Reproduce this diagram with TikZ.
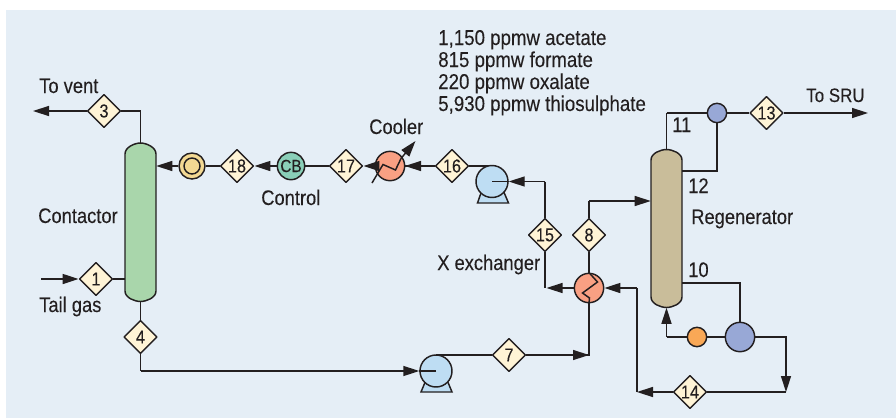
\documentclass[tikz,border=0pt]{standalone}
\usepackage{fontspec}
\setmainfont[FakeStretch=0.87,FakeBold=0.12]{Liberation Sans}
\usetikzlibrary{arrows.meta,shapes.geometric}
\definecolor{panel}{HTML}{E5EEF6}
\definecolor{ink}{HTML}{231F20}
\definecolor{diamondfill}{HTML}{FFF4D6}
\definecolor{green1}{HTML}{A9D6AB}
\definecolor{tan1}{HTML}{C9BD9A}
\definecolor{pumpblue}{HTML}{BEDDF3}
\definecolor{salmon1}{HTML}{F9A083}
\definecolor{teal1}{HTML}{8ACFB8}
\definecolor{yellow1}{HTML}{F3D993}
\definecolor{blue1}{HTML}{98A8D6}
\definecolor{orange1}{HTML}{F9A856}
\tikzset{
  x=0.75pt,y=-0.75pt,
  line/.style={draw=ink,line width=1.1pt},
  flow/.style={line,-{Triangle[length=12pt,width=7.5pt]}},
  stream/.style={diamond,draw=ink,fill=diamondfill,line width=1.1pt,minimum width=25pt,minimum height=25pt,inner sep=0pt,font=\fontsize{14}{14}\selectfont,text=ink,line join=round},
  lab/.style={font=\fontsize{15.8}{16.5}\selectfont,text=ink,inner sep=0pt,anchor=base west,align=left},
  ball/.style={circle,draw=ink,line width=1.1pt,inner sep=0pt},
  vessel/.style={draw=ink,line width=1.1pt},
  slot/.style={inner sep=0pt,minimum width=23.25pt,minimum height=118.5pt},
}
\begin{document}
\begin{tikzpicture}
\useasboundingbox (0,0) rectangle (896,418);
\fill[panel] (6,10) rectangle (896,418);

% vessels
\path[vessel,fill=green1] (125,154) .. controls (125,147) and (135,143) .. (140.5,143) .. controls (146,143) and (156,147) .. (156,154) -- (156,291) .. controls (156,298) and (146,301.5) .. (140.5,301.5) .. controls (135,301.5) and (125,298) .. (125,291) -- cycle;
\path[vessel,fill=tan1] (651,160) .. controls (651,153) and (661,149.5) .. (666.5,149.5) .. controls (672,149.5) and (682,153) .. (682,160) -- (682,297) .. controls (682,304) and (672,307.5) .. (666.5,307.5) .. controls (661,307.5) and (651,304) .. (651,297) -- cycle;
\node[slot] (cont) at (140.5,222.25) {};
\node[slot] (regen) at (666.5,228.5) {};

% streams
\node[stream] (s3) at (104,111) {3};
\node[stream] (s18) at (237,166) {18};
\node[stream] (s17) at (346,166) {17};
\node[stream] (s16) at (452,166) {16};
\node[stream] (s15) at (545,235) {15};
\node[stream] (s8) at (589,235) {8};
\node[stream] (s13) at (766.5,113) {13};
\node[stream] (s1) at (96,279) {1};
\node[stream] (s4) at (140.5,337) {4};
\node[stream] (s7) at (509,355) {7};
\node[stream] (s14) at (690,392) {14};

% corner and free-end coordinates
\coordinate (vent) at (33,111);
\coordinate (c3) at (140.5,111);
\coordinate (tail) at (41,279);
\coordinate (c4) at (140.5,371);
\coordinate (c16) at (492,166);
\coordinate (c15a) at (545,181.5);
\coordinate (c15b) at (545,288);
\coordinate (c8) at (589,201);
\coordinate (c7) at (589,355);
\coordinate (sru) at (868,113);
\coordinate (c11) at (666.5,113);
\coordinate (c12) at (717,171);
\coordinate (c12b) at (682,171);
\coordinate (c10a) at (682,283);
\coordinate (c10b) at (740,283);
\coordinate (r1) at (666.5,337);
\coordinate (r2) at (786,337);
\coordinate (r3) at (786,392);
\coordinate (r4) at (637,392);
\coordinate (r5) at (637,288);

% connectors under equipment
\draw[line] (c3) -- (cont.north);
\draw[line] (s3.east) -- (c3);
\draw[flow] (s3.west) -- (vent);
\draw[line] (s1.east) -- (s1.east-|cont.west);
\draw[flow] (tail) -- (s1.west);
\draw[line] (cont.south) -- (s4.north);
\draw[line] (s4.south) -- (c4);
\draw[line] (c15a) -- (s15.north);
\draw[line] (s15.south) -- (c15b);
\draw[line] (s8.south) -- (589,288);
\draw[line] (s8.north) -- (c8);
\draw[flow] (c8) -- (c8-|regen.west);
\draw[line] (c16) -- (s16.east);
\draw[line] (s16.west) -- (389,166);
\draw[line] (c11) -- (regen.north);
\draw[line] (c11) -- (717,113) -- (c12) -- (c12b);
\draw[line] (717,113) -- (s13.west);
\draw[flow] (s13.east) -- (sru);
\draw[line] (c10a) -- (c10b) -- (740,337);
\draw[line] (740,337) -- (r1);
\draw[flow] (r1) -- (regen.south);
\draw[flow] (740,337) -- (r2) -- (r3);
\draw[line] (r3) -- (s14.east);
\draw[flow] (s14.west) -- (r4);
\draw[line] (r4) -- (r5);
\draw[line] (s7.east) -- (c7) -- (589,288);
\draw[flow] (s7.east) -- (c7);
\draw[flow] (s16.west) -- (405,166);

% equipment
\node[ball,minimum width=19.5pt,fill=yellow1] (filt) at (192,166) {};
\node[ball,minimum width=12pt,fill=yellow1] at (192,166) {};
\node[ball,minimum width=20.5pt,fill=teal1,font=\fontsize{13.2}{14}\selectfont,text=ink] (cb) at (291,166) {CB};
\node[ball,minimum width=22pt,fill=salmon1] (cool) at (390,166) {};
\node[ball,minimum width=22pt,fill=salmon1] (xch) at (589,288) {};
\node[ball,minimum width=14.5pt,fill=blue1] (cond) at (717,113) {};
\node[ball,minimum width=14.5pt,fill=orange1] (oc) at (697,337) {};
\node[ball,minimum width=22pt,fill=blue1] (reb) at (740,337) {};

% pumps
\draw[line] (s7.west) -- (s7.west-|436,355);
\path[vessel,fill=pumpblue,line join=miter] (482,190) -- (477.5,203) -- (508.5,203) -- (503,190) -- cycle;
\node[ball,minimum width=24pt,fill=pumpblue] (p1) at (492,181.5) {};
\path[vessel,fill=pumpblue,line join=miter] (426,380) -- (421,392) -- (452,392) -- (447,380) -- cycle;
\node[ball,minimum width=24pt,fill=pumpblue] (p2) at (436,371) {};

% arrows that meet the equipment
\draw[flow] (filt.west) -- (filt.west-|cont.east);
\draw[flow] (cb.west) -- (s18.east);
\draw[line] (s18.west) -- (filt.east);
\draw[flow] (cool.west) -- (s17.east);
\draw[line] (s17.west) -- (cb.east);
\draw[line] (p1.center) -- (p1.east);
\draw[flow] (c15a) -- (p1.east);
\draw[line] (p2.center) -- (p2.west);
\draw[flow] (c4) -- (p2.west);
\draw[flow] (xch.west) -- (546.5,288);
\draw[flow] (r5) -- (xch.east);

% heat exchanger coils
\draw[line] (xch.north) -- (597.5,282) -- (582.5,293) -- (589.5,298) -- (xch.south);
\draw[line] (372,183) -- (383,164.5) -- (395.5,170) -- (401,158.5);
\draw[flow] (401,158.5) -- (415.5,141);

% labels
\node[lab] at (39,93) {To vent};
\node[lab] at (38,223) {Contactor};
\node[lab] at (39,312) {Tail gas};
\node[lab] at (261,205) {Control};
\node[lab] at (369,134) {Cooler};
\node[lab] at (437,270) {X exchanger};
\node[lab,font=\fontsize{14.6}{16.5}\selectfont] at (806,102) {To SRU};
\node[lab] at (672,132) {11};
\node[lab] at (688,193) {12};
\node[lab] at (688,277) {10};
\node[lab] at (691,224) {Regenerator};
\node[lab,font=\fontsize{16.1}{16.5}\selectfont] at (438,45) {1,150 ppmw acetate};
\node[lab,font=\fontsize{16.1}{16.5}\selectfont] at (438,67) {815 ppmw formate};
\node[lab,font=\fontsize{16.1}{16.5}\selectfont] at (438,89) {220 ppmw oxalate};
\node[lab,font=\fontsize{16.1}{16.5}\selectfont] at (438,111) {5,930 ppmw thiosulphate};
\end{tikzpicture}
\end{document}
